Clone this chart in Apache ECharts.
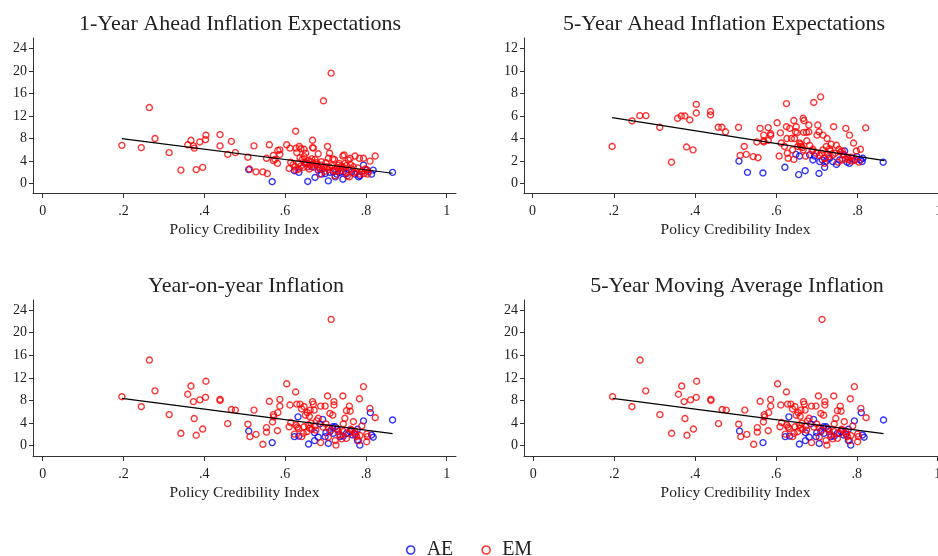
<!DOCTYPE html>
<html>
<head>
<meta charset="utf-8">
<script src="https://cdn.jsdelivr.net/npm/echarts@6/dist/echarts.min.js"></script>
<style>
  html, body { margin: 0; padding: 0; background: #fff; }
  #chart { width: 938px; height: 556px; }
</style>
</head>
<body>
<div id="chart"></div>
<script>
// panel titles
const panelTitles = [
  '1-Year Ahead Inflation Expectations',
  '5-Year Ahead Inflation Expectations',
  'Year-on-year Inflation',
  '5-Year Moving Average Inflation'
];
const xName = 'Policy Credibility Index';
const xTicks = [0, 0.2, 0.4, 0.6, 0.8, 1];
const yTicksWide = [0, 4, 8, 12, 16, 20, 24];
const yTicksNarrow = [0, 2, 4, 6, 8, 10, 12];

// 1-year ahead expectations: [credibility, value]
const emExp1 = [
  [0.196,6.8],[0.244,6.4],[0.264,13.5],[0.278,8.0],[0.313,5.5],[0.342,2.4],[0.359,6.9],[0.367,7.7],
  [0.373,6.7],[0.375,6.3],[0.380,2.5],[0.389,7.4],[0.396,2.9],[0.403,7.8],[0.404,8.6],[0.439,8.7],
  [0.439,6.7],[0.458,5.2],[0.467,7.5],[0.477,5.5],[0.508,4.7],[0.512,2.6],[0.523,6.7],[0.528,2.1],
  [0.545,2.1],[0.556,1.8],[0.554,4.5],[0.561,6.9],[0.571,5.0],[0.571,4.1],[0.575,4.3],[0.581,3.6],
  [0.582,5.9],[0.587,6.0],[0.587,5.2],[0.604,6.9],[0.610,2.7],[0.612,6.3],[0.614,3.8],[0.626,9.3],
  [0.627,6.3],[0.629,5.5],[0.635,6.6],[0.639,6.2],[0.647,6.1],[0.651,5.4],[0.643,4.3],[0.647,4.8],
  [0.633,3.6],[0.625,3.0],[0.627,2.4],[0.634,2.6],[0.654,3.6],[0.658,4.1],[0.662,3.3],[0.668,7.7],
  [0.668,6.4],[0.670,6.3],[0.682,5.3],[0.674,4.3],[0.678,3.7],[0.682,3.0],[0.686,1.7],[0.695,14.7],
  [0.714,19.6],[0.705,6.6],[0.710,5.4],[0.707,4.5],[0.718,4.4],[0.722,4.3],[0.701,3.7],[0.695,3.0],
  [0.711,2.9],[0.719,2.4],[0.724,1.4],[0.732,3.3],[0.736,2.7],[0.740,3.1],[0.743,4.9],[0.746,5.1],
  [0.748,3.6],[0.757,4.2],[0.761,4.5],[0.751,2.0],[0.754,1.4],[0.759,1.2],[0.769,3.0],[0.773,4.9],
  [0.784,4.5],[0.794,4.5],[0.785,1.7],[0.795,1.8],[0.802,2.5],[0.804,1.7],[0.810,4.0],[0.823,4.9],
  [0.806,2.1],[0.777,2.1],[0.640,3.2],[0.645,2.9],[0.650,3.8],[0.656,3.0],[0.660,2.6],[0.664,3.9],
  [0.672,2.9],[0.676,3.4],[0.688,3.3],[0.692,2.6],[0.698,2.2],[0.703,3.0],[0.708,2.5],[0.715,3.2],
  [0.727,2.2],[0.730,2.9],[0.738,2.3],[0.745,2.8],[0.752,3.2],[0.764,2.6],[0.770,1.9],[0.780,2.8],
  [0.790,2.2],[0.798,2.6],[0.620,3.4],[0.637,4.6],[0.666,4.4],[0.690,3.9],[0.734,3.6],[0.762,3.4]
];
const aeExp1 = [
  [0.510,2.5],[0.568,0.35],[0.623,2.3],[0.634,2.0],[0.656,0.4],[0.674,1.1],[0.682,2.4],[0.707,0.5],
  [0.743,0.8],[0.690,1.7],[0.699,1.8],[0.711,2.0],[0.719,2.1],[0.728,1.7],[0.736,2.0],[0.752,1.8],
  [0.765,2.1],[0.773,1.7],[0.782,1.2],[0.794,3.3],[0.802,2.4],[0.814,1.7],[0.818,2.4],[0.866,2.0],
  [0.666,3.0],[0.649,3.6],[0.757,2.5],[0.785,1.4],[0.686,2.7],[0.724,1.2],[0.744,2.1]
];
const fitExp1 = [[0.196,7.98],[0.866,1.85]];

// 5-year ahead expectations
const emExp5 = [
  [0.196,3.3],[0.245,5.56],[0.264,6.03],[0.279,6.03],[0.313,5.0],[0.342,1.9],[0.357,5.8],[0.366,6.0],
  [0.375,6.0],[0.379,3.25],[0.387,5.65],[0.395,3.0],[0.403,7.03],[0.403,6.27],[0.438,6.4],[0.438,6.1],
  [0.457,5.0],[0.466,5.0],[0.475,4.6],[0.507,5.0],[0.511,2.5],[0.521,3.3],[0.526,2.6],[0.543,2.4],
  [0.555,2.3],[0.552,3.7],[0.560,4.9],[0.569,4.3],[0.569,3.8],[0.569,3.7],[0.580,4.97],[0.580,3.84],
  [0.586,4.43],[0.586,4.29],[0.602,5.4],[0.607,2.45],[0.610,4.5],[0.625,7.1],[0.692,7.2],[0.709,7.7],
  [0.625,5.05],[0.633,4.9],[0.643,5.6],[0.649,5.05],[0.626,4.0],[0.637,4.0],[0.645,4.0],[0.651,4.5],
  [0.657,3.6],[0.612,3.6],[0.620,3.3],[0.666,5.8],[0.668,5.6],[0.667,4.55],[0.674,4.55],[0.680,5.2],
  [0.680,4.6],[0.675,3.8],[0.682,3.4],[0.661,3.3],[0.666,3.0],[0.627,2.7],[0.629,2.25],[0.643,2.15],
  [0.672,2.45],[0.702,5.2],[0.705,4.6],[0.700,4.3],[0.715,4.3],[0.725,4.0],[0.741,5.05],[0.771,4.9],
  [0.780,4.3],[0.790,3.6],[0.820,4.95],[0.797,2.9],[0.807,3.05],[0.715,3.0],[0.723,3.3],[0.731,3.1],
  [0.735,3.5],[0.748,3.4],[0.754,3.05],[0.762,2.9],[0.766,2.6],[0.727,2.6],[0.719,2.25],[0.719,1.8],
  [0.752,1.9],[0.762,2.1],[0.779,2.1],[0.784,2.35],[0.803,1.9],[0.690,3.05],[0.698,2.7],[0.711,2.7],
  [0.739,2.55],[0.776,2.35],[0.653,3.3],[0.660,3.5],[0.664,3.2],[0.640,3.0],[0.688,2.9],[0.733,2.9],
  [0.745,2.7],[0.758,2.8],[0.770,2.2],[0.786,2.0],[0.794,2.1],[0.729,2.4],[0.706,2.5],[0.647,4.6]
];
const aeExp5 = [
  [0.508,2.0],[0.529,1.0],[0.567,0.95],[0.621,1.45],[0.655,0.8],[0.671,1.15],[0.705,0.9],[0.719,1.45],
  [0.648,2.6],[0.657,2.45],[0.690,2.1],[0.694,2.45],[0.707,1.95],[0.713,2.1],[0.731,2.25],[0.739,1.95],
  [0.748,1.7],[0.756,2.1],[0.766,2.55],[0.768,2.9],[0.774,1.9],[0.780,1.8],[0.787,2.25],[0.793,2.1],
  [0.798,2.4],[0.807,2.1],[0.813,2.25],[0.811,1.95],[0.863,1.9],[0.682,2.55],[0.723,2.0]
];
const fitExp5 = [[0.196,5.85],[0.866,2.04]];

// realised inflation (year-on-year and 5-year moving average read the same)
const emInfl = [
  [0.196,8.67],[0.244,6.9],[0.264,15.15],[0.278,9.7],[0.313,5.5],[0.342,2.2],[0.359,9.1],[0.367,10.55],
  [0.373,7.8],[0.375,4.8],[0.380,1.85],[0.389,8.1],[0.396,2.95],[0.403,8.55],[0.404,11.4],[0.439,8.2],
  [0.439,8.0],[0.458,3.9],[0.467,6.4],[0.477,6.3],[0.508,3.8],[0.513,1.6],[0.523,6.3],[0.528,2.0],
  [0.545,0.25],[0.554,3.2],[0.554,2.4],[0.561,7.85],[0.571,5.5],[0.572,5.1],[0.569,4.2],[0.581,2.65],
  [0.582,5.85],[0.587,8.2],[0.587,7.0],[0.604,10.95],[0.612,7.2],[0.610,3.35],[0.614,4.1],[0.626,9.5],
  [0.629,7.35],[0.637,7.35],[0.641,6.5],[0.647,6.9],[0.650,5.4],[0.655,5.85],[0.662,6.3],[0.668,7.8],
  [0.670,7.35],[0.672,6.3],[0.688,7.0],[0.699,7.0],[0.705,8.8],[0.714,22.35],[0.721,7.8],[0.721,7.2],
  [0.711,5.7],[0.718,5.4],[0.743,8.8],[0.759,7.0],[0.752,6.2],[0.761,6.1],[0.784,8.3],[0.794,10.45],
  [0.810,6.6],[0.823,4.95],[0.748,4.85],[0.744,3.85],[0.769,4.25],[0.790,3.5],[0.682,4.85],[0.678,4.4],
  [0.674,3.5],[0.658,3.65],[0.647,3.35],[0.633,3.05],[0.627,3.65],[0.623,2.05],[0.641,1.6],[0.654,2.5],
  [0.688,0.55],[0.701,3.85],[0.707,3.2],[0.713,2.75],[0.707,1.5],[0.724,0.9],[0.726,0.1],[0.732,2.5],
  [0.736,1.9],[0.744,2.5],[0.752,1.3],[0.757,2.2],[0.765,2.75],[0.773,2.5],[0.777,1.6],[0.782,0.9],
  [0.785,1.8],[0.802,2.05],[0.802,0.7],[0.804,1.6],[0.775,2.05],[0.666,2.9],[0.676,2.75],[0.630,3.3],
  [0.645,2.2],[0.660,3.1],[0.664,4.0],[0.694,3.3],[0.728,3.0],[0.740,1.2],[0.762,2.9],[0.660,5.2]
];
const aeInfl = [
  [0.510,2.6],[0.568,0.55],[0.623,1.6],[0.632,5.1],[0.634,1.7],[0.658,0.3],[0.673,2.3],[0.673,0.9],
  [0.682,1.5],[0.693,4.65],[0.686,3.85],[0.699,1.6],[0.701,2.3],[0.707,0.4],[0.711,2.5],[0.718,3.35],
  [0.724,3.35],[0.729,2.9],[0.736,1.6],[0.744,1.7],[0.752,2.2],[0.761,2.5],[0.767,1.9],[0.773,2.05],
  [0.779,2.9],[0.779,0.9],[0.785,0.1],[0.794,4.4],[0.811,5.85],[0.814,1.9],[0.818,1.5],[0.866,4.55],
  [0.719,2.2]
];
const fitInfl = [[0.196,8.37],[0.866,2.15]];

const panels = [
  { em: emExp1, ae: aeExp1, fit: fitExp1, yTicks: yTicksWide },
  { em: emExp5, ae: aeExp5, fit: fitExp5, yTicks: yTicksNarrow },
  { em: emInfl, ae: aeInfl, fit: fitInfl, yTicks: yTicksWide },
  { em: emInfl, ae: aeInfl, fit: fitInfl, yTicks: yTicksWide }
];

const SERIF = '"Liberation Serif", "DejaVu Serif", serif';
const AXIS_COLOR = '#333';
const TEXT_COLOR = '#222';

// layout of each panel (pixels) and the data range its frame covers
const grids = [
  { left: 33,  top: 38,  width: 423, height: 155, outerBoundsMode: 'none' },
  { left: 524, top: 38,  width: 423, height: 155, outerBoundsMode: 'none' },
  { left: 33,  top: 300, width: 423, height: 156, outerBoundsMode: 'none' },
  { left: 524, top: 300, width: 423, height: 156, outerBoundsMode: 'none' }
];
const xRange = [[-0.024, 1.023], [-0.021, 1.020], [-0.024, 1.023], [-0.023, 1.023]];
const yRange = [[-1.65, 25.83], [-0.83, 12.92], [-1.82, 25.77], [-1.82, 25.77]];
const titlePos = [[235, 8], [719, 8], [241, 270], [732, 270]];

function fmtX(v) {
  if (v === 0) return '0';
  if (v === 1) return '1';
  return String(+v.toFixed(1)).replace('0.', '.');
}

const chart = echarts.init(document.getElementById('chart'));

const xAxes = [], yAxes = [], series = [], titles = [];
panels.forEach((p, i) => {
  titles.push({
    text: panelTitles[i],
    left: titlePos[i][0],
    top: titlePos[i][1],
    textAlign: 'center',
    textStyle: { fontFamily: SERIF, fontSize: 22, fontWeight: 'normal', color: TEXT_COLOR }
  });
  xAxes.push({
    type: 'value', gridIndex: i,
    min: xRange[i][0], max: xRange[i][1],
    name: xName, nameLocation: 'middle', nameGap: 29,
    nameTextStyle: { fontFamily: SERIF, fontSize: 15.5, color: TEXT_COLOR },
    axisLine: { show: true, onZero: false, lineStyle: { color: AXIS_COLOR, width: 1 } },
    axisTick: { show: true, length: 5, customValues: xTicks, lineStyle: { color: AXIS_COLOR } },
    axisLabel: { customValues: xTicks, formatter: fmtX, margin: 11,
      fontFamily: SERIF, fontSize: 14, color: TEXT_COLOR },
    splitLine: { show: false }
  });
  yAxes.push({
    type: 'value', gridIndex: i,
    min: yRange[i][0], max: yRange[i][1],
    axisLine: { show: true, onZero: false, lineStyle: { color: AXIS_COLOR, width: 1 } },
    axisTick: { show: true, length: 4, customValues: p.yTicks, lineStyle: { color: AXIS_COLOR } },
    axisLabel: { customValues: p.yTicks, margin: 6,
      fontFamily: SERIF, fontSize: 14, color: TEXT_COLOR },
    splitLine: { show: false }
  });
  series.push({
    name: 'AE', type: 'scatter', xAxisIndex: i, yAxisIndex: i,
    data: p.ae, symbol: 'circle', symbolSize: 6,
    itemStyle: { color: 'transparent', borderColor: '#0000ff', borderWidth: 1.4 },
    emphasis: { disabled: true }, silent: true
  });
  series.push({
    name: 'EM', type: 'scatter', xAxisIndex: i, yAxisIndex: i,
    data: p.em, symbol: 'circle', symbolSize: 6,
    itemStyle: { color: 'transparent', borderColor: '#ff0000', borderWidth: 1.4 },
    emphasis: { disabled: true }, silent: true
  });
  series.push({
    name: 'fit', type: 'line', xAxisIndex: i, yAxisIndex: i,
    data: p.fit, showSymbol: false, symbol: 'none',
    lineStyle: { color: '#000', width: 1.2 },
    z: 3, silent: true
  });
});

chart.setOption({
  backgroundColor: '#fff',
  animation: false,
  title: titles,
  grid: grids,
  xAxis: xAxes,
  yAxis: yAxes,
  legend: {
    data: [
      { name: 'AE', icon: 'circle', itemStyle: { color: 'transparent', borderColor: '#0000ff', borderWidth: 1.6 } },
      { name: 'EM', icon: 'circle', itemStyle: { color: 'transparent', borderColor: '#ff0000', borderWidth: 1.6 } }
    ],
    left: 'center', top: 535,
    itemWidth: 8, itemHeight: 8, itemGap: 28,
    textStyle: { fontFamily: SERIF, fontSize: 20, color: TEXT_COLOR, padding: [0, 0, 0, 7] }
  },
  series: series
});
</script>
</body>
</html>
